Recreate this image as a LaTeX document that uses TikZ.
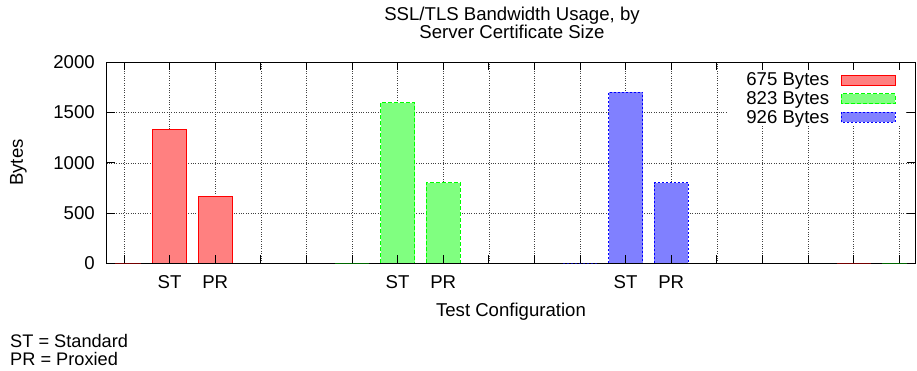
\documentclass[tikz,border=0pt]{standalone}
\usepackage{fontspec}
\setmainfont{Liberation Sans}
\tikzset{
  txt/.style={font=\fontsize{18.6}{21}\selectfont, inner sep=0pt},
  redbar/.style={fill=red!50, draw=red, line width=0.9pt},
  greenbar/.style={fill=green!50, draw=green, dash pattern=on 4pt off 2pt, line width=0.9pt},
  bluebar/.style={fill=blue!50, draw=blue, dash pattern=on 2pt off 2pt, line width=0.9pt},
}
\begin{document}
\begin{tikzpicture}[x=1pt,y=1pt]
\useasboundingbox (0,0) rectangle (917,371);
% titles
\node[txt, align=center, anchor=south, font=\fontsize{18.6}{17.3}\selectfont] (title) at (512,331.7)
  {SSL/TLS Bandwidth Usage, by\\Server Certificate Size};
\node[txt, rotate=90] (ylabel) at (18.3,208.5) {Bytes};
\node[txt, anchor=base] (xlabel) at (511,54.3) {Test Configuration};
\node[txt, align=left, anchor=south west, font=\fontsize{18.2}{18}\selectfont] (keys) at (10,5.5)
  {ST = Standard\\PR = Proxied};
% plot area, x = test, y = bytes
\begin{scope}[shift={(124,107.7)}, x=45.6pt, y=0.1005pt]
\draw[dotted, black!75, xstep=1, ystep=500] (-0.38,0) grid (17.35,2000);
\fill[white] (13.22,1370) rectangle (17.13,2000);
\draw[redbar] (0.625,0) rectangle (1.375,1333);
\draw[redbar] (1.625,0) rectangle (2.375,667);
\draw[greenbar] (5.625,0) rectangle (6.375,1600);
\draw[greenbar] (6.625,0) rectangle (7.375,800);
\draw[bluebar] (10.625,0) rectangle (11.375,1700);
\draw[bluebar] (11.625,0) rectangle (12.375,800);
\draw[line width=1pt] (-0.38,0) rectangle (17.35,2000);
\draw[red!45!black, line width=1pt] (-0.375,0) -- (0.375,0);
\draw[red!45!black, line width=1pt] (15.625,0) -- (16.375,0);
\draw[green!40!black, line width=1pt] (4.625,0) -- (5.375,0);
\draw[green!40!black, line width=1pt] (16.625,0) -- (17.35,0);
\draw[blue!60!black, dash pattern=on 2pt off 2pt, line width=1pt] (9.625,0) -- (10.375,0);
\foreach \x in {0,...,17} {
  \draw[line width=0.8pt] (\x,0) -- ++(0pt,8pt);
  \draw[line width=0.8pt] (\x,2000) -- ++(0pt,-8pt);
}
\foreach \y in {0,500,1000,1500,2000} {
  \draw[line width=0.8pt] (-0.38,\y) -- ++(8pt,0pt);
  \draw[line width=0.8pt] (17.35,\y) -- ++(-8pt,0pt);
  \node[txt, anchor=east] (ytick\y) at ([xshift=-11.7pt]-0.38,\y) {\y};
}
\node[txt] (st1) at ([yshift=-19.2pt]1,0) {ST};
\node[txt] (pr1) at ([yshift=-19.2pt]2,0) {PR};
\node[txt] (st2) at ([yshift=-19.2pt]6,0) {ST};
\node[txt] (pr2) at ([yshift=-19.2pt]7,0) {PR};
\node[txt] (st3) at ([yshift=-19.2pt]11,0) {ST};
\node[txt] (pr3) at ([yshift=-19.2pt]12,0) {PR};
\end{scope}
% key
\node[txt, anchor=base east] (key675) at (829.3,285) {675 Bytes};
\node[txt, anchor=base east] (key823) at (829.3,266.4) {823 Bytes};
\node[txt, anchor=base east] (key926) at (829.3,247.7) {926 Bytes};
\draw[redbar] (841,286) rectangle (895,296);
\draw[greenbar] (841,267.3) rectangle (895,277.3);
\draw[bluebar] (841,248.7) rectangle (895,258.7);
\end{tikzpicture}
\end{document}
